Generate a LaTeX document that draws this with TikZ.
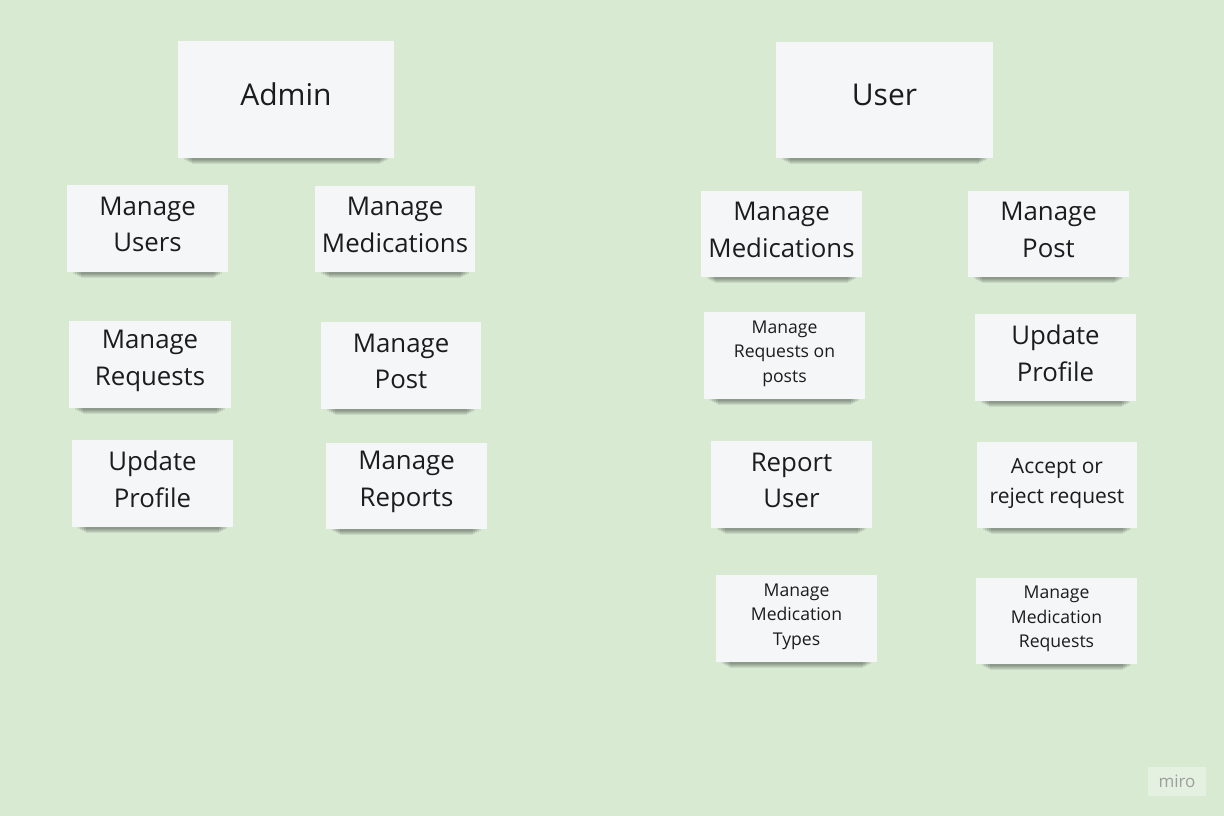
\documentclass[tikz,border=0pt]{standalone}
\usepackage{fontspec}
\setmainfont{Open Sans}
\definecolor{bg}{HTML}{D9EAD3}
\definecolor{paper}{HTML}{F5F6F7}
\definecolor{ink}{HTML}{1C1C1C}
\tikzset{
  note/.style={fill=paper, draw=none, inner sep=0pt},
  notetext/.style={align=center, text=ink, inner sep=0pt},
  big/.style={font=\fontsize{30}{40}\selectfont, yshift=5pt},
  mid/.style={font=\fontsize{25.8}{36.8}\selectfont, yshift=4pt},
  msm/.style={font=\fontsize{21}{30}\selectfont, yshift=2pt},
  sml/.style={font=\fontsize{17.6}{24.5}\selectfont, yshift=2pt},
  shade/.style={fill=black, opacity=0.08},
}
% \notebox{name}{style}{x1}{y1}{x2}{y2}{text}
\newcommand{\notebox}[7]{%
  \foreach \k in {0,1,2,3,4}{
    \fill[shade] ({#3+6+2*\k},{#6-4}) rectangle ({#5-6-2*\k},{#6+1.5+\k});
  }
  \node[note,minimum width={#5-#3}, minimum height={#6-#4}] (#1) at ({(#3+#5)/2},{(#4+#6)/2}) {};
  \node[notetext,#2] (#1-t) at (#1.center) {#7};}
\begin{document}
\begin{tikzpicture}[x=1pt,y=-1pt]
\fill[bg] (0,0) rectangle (1224,816);
\useasboundingbox (0,0) rectangle (1224,816);
\notebox{admin}{big}{178}{41}{394}{158}{Admin}
\notebox{user}{big}{776}{42}{993}{158}{User}
\notebox{amu}{mid}{67}{185}{228}{272}{Manage\\Users}
\notebox{amm}{mid}{315}{186}{475}{272}{Manage\\Medications}
\notebox{amr}{mid}{69}{321}{231}{408}{Manage\\Requests}
\notebox{amp}{mid}{321}{322}{481}{409}{Manage\\Post}
\notebox{aup}{mid}{72}{440}{233}{527}{Update\\Profile}
\notebox{amrep}{mid}{326}{443}{487}{529}{Manage\\Reports}
\notebox{umm}{mid}{701}{191}{862}{277}{Manage\\Medications}
\notebox{ump}{mid}{968}{191}{1129}{277}{Manage\\Post}
\notebox{umr}{sml}{704}{312}{865}{399}{Manage\\Requests on\\posts}
\notebox{uup}{mid}{975}{314}{1136}{401}{Update\\Profile}
\notebox{uru}{mid}{711}{441}{872}{528}{Report\\User}
\notebox{uar}{msm}{977}{442}{1137}{528}{Accept or\\reject request}
\notebox{umt}{sml}{716}{575}{877}{662}{Manage\\Medication\\Types}
\notebox{umq}{sml}{976}{578}{1137}{664}{Manage\\Medication\\Requests}
\node[fill=white, fill opacity=0.3, text opacity=1, text=black!38, minimum width=58pt, minimum height=29pt,
  font=\fontsize{17}{20}\selectfont] (miro) at (1177,781) {miro};
\end{tikzpicture}
\end{document}
